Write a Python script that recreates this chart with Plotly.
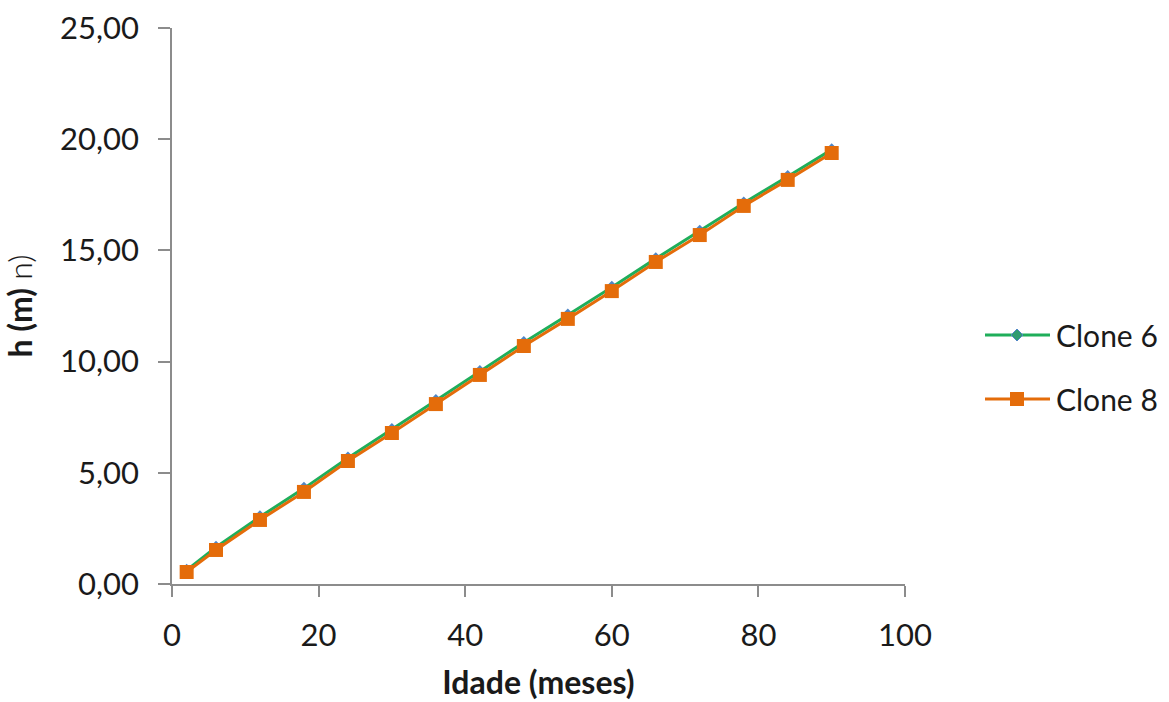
import plotly.graph_objects as go

# Age in months and mean height (m) for each clone
idade = [2, 6, 12, 18, 24, 30, 36, 42, 48, 54, 60, 66, 72, 78, 84, 90]
clone6 = [0.62, 1.65, 3.02, 4.30, 5.67, 6.95, 8.25, 9.56, 10.86, 12.10,
          13.34, 14.63, 15.86, 17.13, 18.32, 19.53]
clone8 = [0.54, 1.53, 2.88, 4.14, 5.53, 6.79, 8.09, 9.40, 10.70, 11.92,
          13.17, 14.48, 15.69, 17.00, 18.17, 19.38]

series_names = ["Clone 6", "Clone 8"]
x_ticks = [0, 20, 40, 60, 80, 100]
y_ticks = [0, 5, 10, 15, 20, 25]

GREEN = "#1fae5a"
ORANGE = "#e46c0a"
DIAMOND = "#4f86c6"
FONT = "Lato"
TXT = "#1a1a1a"
AXIS = "#8c8c8c"

# plot-area size in pixels (used to place the hand-drawn legend)
PW, PH = 733, 556
L, T = 172, 28

fig = go.Figure()
fig.add_trace(go.Scatter(
    x=idade, y=clone6, name=series_names[0], mode="lines+markers",
    line=dict(color=GREEN, width=3),
    marker=dict(symbol="diamond", size=10, color=DIAMOND),
    showlegend=False,
))
fig.add_trace(go.Scatter(
    x=idade, y=clone8, name=series_names[1], mode="lines+markers",
    line=dict(color=ORANGE, width=3),
    marker=dict(symbol="square", size=14, color=ORANGE),
    showlegend=False,
))

# Legend drawn by hand so the sample lines are as long as the original
def px_x(px):
    return (px - L) / PW


def px_y(py):
    return (T + PH - py) / PH


legend_rows = [(series_names[0], GREEN, "diamond", 335),
               (series_names[1], ORANGE, "square", 399)]
for name, color, sym, row_px in legend_rows:
    yp = px_y(row_px)
    fig.add_shape(type="line", xref="paper", yref="paper",
                  x0=px_x(985), x1=px_x(1050), y0=yp, y1=yp,
                  line=dict(color=color, width=3))
    cx = px_x(1017)
    if sym == "square":
        hw, hh = 7 / PW, 7 / PH
        fig.add_shape(type="rect", xref="paper", yref="paper",
                      x0=cx - hw, x1=cx + hw, y0=yp - hh, y1=yp + hh,
                      fillcolor=color, line=dict(width=0))
    else:
        hw, hh = 6 / PW, 6 / PH
        fig.add_shape(type="path", xref="paper", yref="paper",
                      path=f"M {cx - hw} {yp} L {cx} {yp + hh} L {cx + hw} {yp} L {cx} {yp - hh} Z",
                      fillcolor="#2e9c70", line=dict(color=DIAMOND, width=1))
    fig.add_annotation(text=name, xref="paper", yref="paper",
                       x=px_x(1054), y=yp, xanchor="left", yanchor="middle",
                       showarrow=False, font=dict(family=FONT, size=30, color=TXT))

fig.update_layout(
    width=1169, height=702,
    margin=dict(l=L, r=1169 - L - PW, t=T, b=702 - T - PH),
    paper_bgcolor="white", plot_bgcolor="white",
    separators=",.",
    font=dict(family=FONT, size=31, color=TXT),
)
fig.update_xaxes(
    range=[0, 100], tickvals=x_ticks, showgrid=False, zeroline=False,
    showline=True, linecolor=AXIS, linewidth=1.5, automargin=False,
    ticks="outside", ticklen=11, tickcolor=AXIS, tickwidth=1.5,
    ticklabelstandoff=12, tickfont=dict(family=FONT, size=31, color=TXT),
    title=dict(text="<b>Idade (meses)</b>", standoff=20,
               font=dict(family=FONT, size=32, color=TXT)),
)
fig.update_yaxes(
    range=[0, 25], tickvals=y_ticks, tickformat=".2f", showgrid=False,
    zeroline=False, showline=True, linecolor=AXIS, linewidth=1.5, automargin=False,
    ticks="outside", ticklen=12, tickcolor=AXIS, tickwidth=1.5,
    ticklabelstandoff=13, tickfont=dict(family=FONT, size=31, color=TXT),
    title=dict(text="<b>h (m)</b> <span style='font-weight:300'>n)</span>", standoff=22,
               font=dict(family=FONT, size=32, color=TXT)),
)

fig.write_html("out.html")
